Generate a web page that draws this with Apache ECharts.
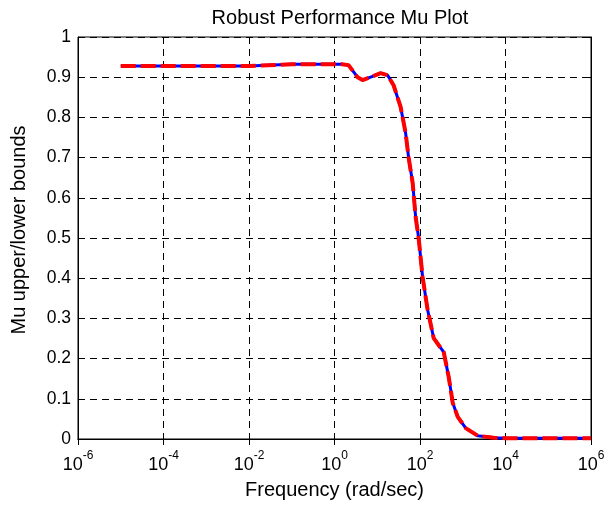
<!DOCTYPE html>
<html>
<head>
<meta charset="utf-8">
<script src="https://cdn.jsdelivr.net/npm/echarts@6/dist/echarts.min.js"></script>
<style>html,body{margin:0;padding:0;background:#fff;}#c{width:612px;height:505px;}</style>
</head>
<body>
<div id="c"></div>
<script>
const titleText = 'Robust Performance Mu Plot';
const xName = 'Frequency (rad/sec)';
const yName = 'Mu upper/lower bounds';
const freq = [1e-5, 1e-4, 1e-3, 0.0099, 0.01, 0.1, 1, 1.5, 2.13, 3.46, 4.53, 6.98, 11.97, 17.5, 24.1, 35.2, 46.1, 54.2, 67.3, 79.1, 93, 115, 151, 209, 359, 470, 583, 763, 1175, 2240, 5370, 1e4, 1e5, 1e6];
const upperBound = [0.928, 0.928, 0.928, 0.928, 0.932, 0.932, 0.932, 0.932, 0.930, 0.900, 0.893, 0.900, 0.910, 0.905, 0.880, 0.826, 0.761, 0.700, 0.637, 0.552, 0.500, 0.403, 0.321, 0.251, 0.216, 0.154, 0.090, 0.055, 0.027, 0.008, 0.003, 0.002, 0.002, 0.002];
const lowerBound = [0.928, 0.928, 0.928, 0.928, 0.932, 0.932, 0.932, 0.932, 0.930, 0.900, 0.893, 0.900, 0.910, 0.905, 0.880, 0.826, 0.761, 0.700, 0.637, 0.552, 0.500, 0.403, 0.321, 0.251, 0.216, 0.154, 0.090, 0.055, 0.027, 0.008, 0.003, 0.002, 0.002, 0.002];

const font = 'Liberation Sans, Arial, Helvetica, sans-serif';
const chart = echarts.init(document.getElementById('c'), null, {renderer: 'canvas'});
const upperData = freq.map((f, i) => [f, upperBound[i]]);
const lowerData = freq.map((f, i) => [f, lowerBound[i]]);
const gridLine = {show: true, lineStyle: {color: '#000', width: 1, type: [7, 5]}};
const expLabel = v => {
  const e = Math.round(Math.log10(v));
  return '{b|10}{s|' + e + '}';
};
chart.setOption({
  animation: false,
  title: {text: titleText, left: 335, top: 3, textAlign: 'center',
    textStyle: {fontFamily: font, fontSize: 20, fontWeight: 'normal', color: '#000'}},
  grid: {left: 78, right: 21, top: 37, bottom: 66, show: true, borderColor: '#000', borderWidth: 1, backgroundColor: '#fff'},
  xAxis: [{
    type: 'log', logBase: 10, min: 1e-6, max: 1e6, interval: 2,
    name: xName, nameLocation: 'middle', nameGap: 41,
    nameTextStyle: {fontFamily: font, fontSize: 20, color: '#000'},
    axisLine: {show: true, lineStyle: {color: '#000', width: 1}},
    axisTick: {show: true, inside: true, length: 6, lineStyle: {color: '#000'}},
    minorTick: {show: false},
    splitLine: gridLine,
    axisLabel: {margin: 11, formatter: expLabel,
      rich: {b: {fontFamily: font, fontSize: 18, color: '#000', verticalAlign: 'bottom', padding: [6,0,0,0]},
             s: {fontFamily: font, fontSize: 12, color: '#000', verticalAlign: 'top', padding: [0,0,8,0]}}}
  }, {
    type: 'log', logBase: 10, min: 1e-6, max: 1e6, interval: 2, position: 'top',
    axisLine: {show: true, lineStyle: {color: '#000', width: 1}},
    axisTick: {show: true, inside: true, length: 6, lineStyle: {color: '#000'}},
    axisLabel: {show: false}, splitLine: {show: false}
  }],
  yAxis: [{
    type: 'value', min: 0, max: 1, interval: 0.1,
    name: yName, nameLocation: 'middle', nameGap: 49, nameRotate: 90,
    nameTextStyle: {fontFamily: font, fontSize: 20, color: '#000', padding: [0, 0, 0, 16]},
    axisLine: {show: true, lineStyle: {color: '#000', width: 1}},
    axisTick: {show: true, inside: true, length: 6, lineStyle: {color: '#000'}},
    splitLine: gridLine,
    axisLabel: {margin: 7, fontFamily: font, fontSize: 17.5, color: '#000',
      formatter: v => (v === 0 ? '0' : (Math.abs(v - 1) < 1e-9 ? '1' : v.toFixed(1)))}
  }, {
    type: 'value', min: 0, max: 1, interval: 0.1, position: 'right',
    axisLine: {show: true, lineStyle: {color: '#000', width: 1}},
    axisTick: {show: true, inside: true, length: 6, lineStyle: {color: '#000'}},
    axisLabel: {show: false}, splitLine: {show: false}
  }],
  series: [{
    name: 'upper', type: 'line', data: upperData, showSymbol: false, smooth: false,
    lineStyle: {color: '#0000ff', width: 3, type: 'solid'}, z: 3
  }, {
    name: 'lower', type: 'line', data: lowerData, showSymbol: false, smooth: false,
    lineStyle: {color: '#ff0000', width: 4, type: [15, 5]}, z: 4
  }]
});
</script>
</body>
</html>
